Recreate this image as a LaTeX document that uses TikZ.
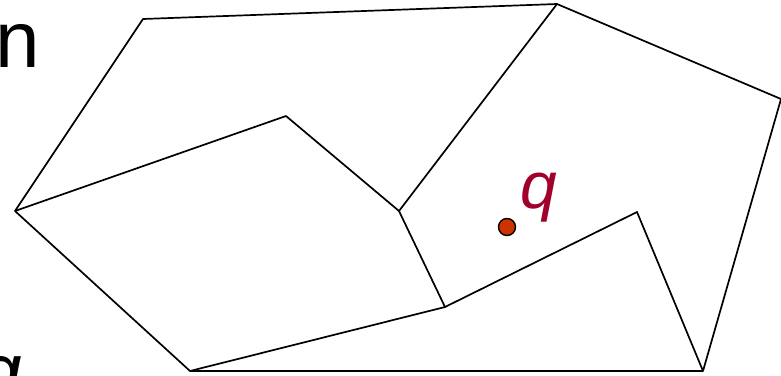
\documentclass[tikz,border=0pt]{standalone}
\usepackage{fontspec}
\setmainfont{Liberation Sans}
\begin{document}
\begin{tikzpicture}[x=1pt,y=-1pt,
  edge/.style={line width=1.7pt,line join=round},
  lbl/.style={inner sep=0pt,font=\fontsize{80}{90}\selectfont},
  qlbl/.style={inner sep=0pt,text={rgb,255:red,160;green,0;blue,42},font=\fontsize{66}{74}\selectfont\itshape},
  pt/.style={circle,draw=black,line width=1.4pt,fill={rgb,255:red,204;green,51;blue,0},minimum size=17pt,inner sep=0pt}]
\useasboundingbox (0,0) rectangle (781,375);
\coordinate (A) at (143,19);
\coordinate (B) at (557,4);
\coordinate (C) at (781,99);
\coordinate (D) at (703,371);
\coordinate (E) at (190,371);
\coordinate (F) at (15,211);
\coordinate (G) at (286,116);
\coordinate (H) at (399,211);
\coordinate (I) at (445,307);
\coordinate (J) at (637,212);
\draw[edge] (A) -- (B) -- (C) -- (D) -- (E) -- (F) -- cycle;
\draw[edge] (F) -- (G) -- (H) -- (B);
\draw[edge] (H) -- (I) -- (E);
\draw[edge] (I) -- (J) -- (D);
\node[pt] (p) at (507,227) {};
\node[qlbl,anchor=base west] (ql) at (520,208) {q};
\node[lbl,anchor=base east] (n) at (40.5,67) {n};
\node[lbl,anchor=base east,font=\fontsize{80}{90}\selectfont\itshape] (q2) at (22,399) {q};
\end{tikzpicture}
\end{document}
